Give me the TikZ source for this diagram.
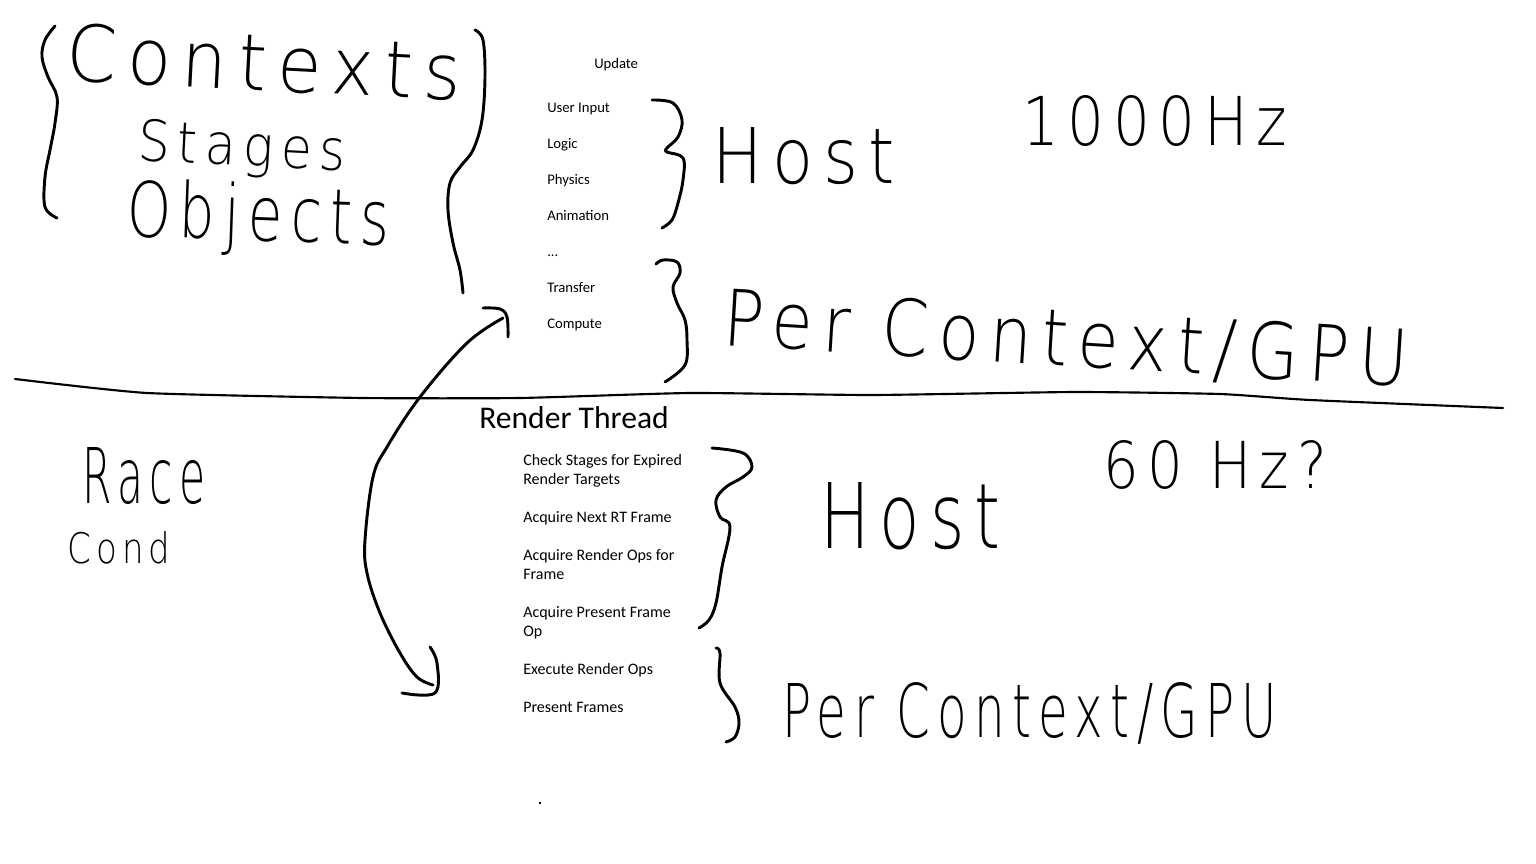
\documentclass[tikz,border=0pt]{standalone}
\usepackage{fontspec}
\setmainfont{Carlito}
\IfFontExistsTF{DejaVuSans-ExtraLight.ttf}
  {\newfontfamily\hwfont[LetterSpace=15]{DejaVuSans-ExtraLight.ttf}}
  {\IfFontExistsTF{Lato Light}
    {\newfontfamily\hwfont[LetterSpace=15]{Lato Light}}
    {\newfontfamily\hwfont[LetterSpace=15]{Fira Sans}}}
\usepackage{graphicx}
\newdimen\pxl \pxl=0.75pt
\newcommand\hwtext[3]{\resizebox{#1\pxl}{#2\pxl}{\hwfont #3}}
\tikzset{
  typed/.style={inner sep=0pt, anchor=base west, font=\fontsize{11}{13}\selectfont, text=black},
  typedb/.style={typed, font=\fontsize{12}{14.5}\selectfont},
  hw/.style={inner sep=0pt, anchor=base west},
  stroke/.style={line width=2.2pt, line cap=round, line join=round, black},
  thinstroke/.style={line width=1.6pt, line cap=round, line join=round, black}
}
\begin{document}
\begin{tikzpicture}[x=0.75pt,y=-0.75pt]
\useasboundingbox[fill=white] (0,0) rectangle (1536,864);

% ---------- typed text, upper ----------
\node[typed] (upd) at (594,68) {Update};
\node[typed] (ui) at (547,112) {User Input};
\node[typed] (lg) at (547,148) {Logic};
\node[typed] (ph) at (547,184) {Physics};
\node[typed] (an) at (547,220) {Animation};
\node[typed] (dots) at (547,256) {...};
\node[typed] (tr) at (547,292) {Transfer};
\node[typed] (cp) at (547,328) {Compute};

% ---------- typed text, lower ----------
\node[typed, font=\fontsize{23.7}{28}\selectfont] (rt) at (479,428) {Render Thread};
\node[typedb] (c1) at (523,465) {Check Stages for Expired};
\node[typedb] (c2) at (523,484) {Render Targets};
\node[typedb] (a1) at (523,522) {Acquire Next RT Frame};
\node[typedb] (b1) at (523,560) {Acquire Render Ops for};
\node[typedb] (b2) at (523,579) {Frame};
\node[typedb] (p1) at (523,617) {Acquire Present Frame};
\node[typedb] (p2) at (523,636) {Op};
\node[typedb] (ex) at (523,674) {Execute Render Ops};
\node[typedb] (pf) at (523,712) {Present Frames};

% ---------- handwritten words ----------
\node[hw, rotate=-3] (ctx) at (65,80) {\hwtext{395}{58}{Contexts}};
\node[hw, rotate=-3] (stg) at (137,160) {\hwtext{208}{42}{Stages}};
\node[hw, rotate=-2] (obj) at (126,236) {\hwtext{263}{58}{Objects}};
\node[hw] (host1) at (712,183) {\hwtext{183}{56}{Host}};
\node[hw] (hz1) at (1022,145) {\hwtext{265}{50}{1000Hz}};
\node[hw, rotate=-3.5] (pc1) at (722,345) {\hwtext{686}{58}{Per Context/GPU}};
\node[hw] (race) at (82,503) {\hwtext{123}{56}{Race}};
\node[hw] (cond) at (67,563) {\hwtext{103}{32}{Cond}};
\node[hw] (host2) at (820,548) {\hwtext{180}{66}{Host}};
\node[hw] (hz2) at (1103,488) {\hwtext{224}{48}{60 Hz?}};
\node[hw] (pc2) at (782,737) {\hwtext{495}{55}{Per Context/GPU}};

% ---------- braces ----------
\draw[stroke] plot[smooth, tension=0.6] coordinates {(55,26) (45,40) (42,57) (48,77) (57,97) (55,123) (50,150) (45,177) (45,207) (57,218)};
\draw[stroke] plot[smooth, tension=0.6] coordinates {(475,30) (483,40) (485,77) (482,120) (473,150) (460,167) (450,183) (448,210) (453,243) (460,270) (463,293)};
\draw[stroke] plot[smooth, tension=0.6] coordinates {(652,100) (673,103) (682,120) (678,137) (667,148) (667,152) (683,158) (683,180) (678,203) (672,220) (662,228)};
\draw[stroke] plot[smooth, tension=0.6] coordinates {(656,264) (663,260) (677,262) (680,273) (673,287) (677,303) (685,320) (687,340) (685,365) (665,382)};
\draw[stroke] plot[smooth, tension=0.6] coordinates {(712,448) (743,453) (752,467) (743,477) (726,487) (716,500) (720,517) (730,527) (722,567) (716,603) (709,620) (699,628)};
\draw[stroke] plot[smooth, tension=0.6] coordinates {(716,648) (720,653) (720,683) (735,707) (739,723) (735,737) (726,742)};

% ---------- dividing line ----------
\draw[thinstroke] plot[smooth, tension=0.3] coordinates {(15,379) (147,393) (363,398) (520,398) (690,393) (872,395) (1075,392) (1220,394) (1310,400) (1503,408)};

% ---------- double-headed hand arrow ----------
\coordinate (arrTop) at (503,318);
\coordinate (arrBot) at (433,685);
\draw[stroke] plot[smooth, tension=0.6] coordinates {(arrTop) (467,343) (420,397) (387,447) (373,477) (365,540) (367,573) (380,613) (400,653) (417,677) (arrBot)};
\draw[stroke] plot[smooth, tension=0.6] coordinates {(483,308) (500,309) (507,317) (508,337)};
\draw[stroke] plot[smooth, tension=0.6] coordinates {(430,647) (437,663) (435,693) (402,693)};

% ---------- stray dot ----------
\fill[black] (539,802) rectangle (541,804);
\end{tikzpicture}
\end{document}
